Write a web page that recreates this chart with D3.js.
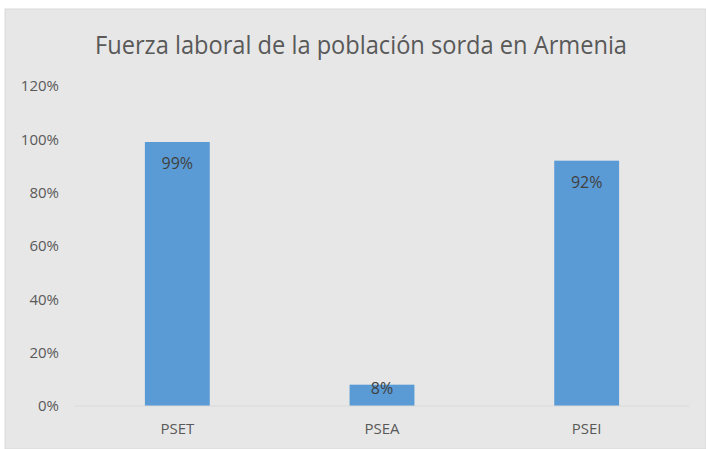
<!DOCTYPE html>
<html>
<head>
<meta charset="utf-8">
<script src="https://cdn.jsdelivr.net/npm/d3@7"></script>
<style>
  html, body { margin: 0; padding: 0; background: #fff; }
  svg { display: block; font-family: "Open Sans", "Noto Sans", sans-serif; }
</style>
</head>
<body>
<svg id="graph" width="706" height="449"></svg>
<script>
const title = "Fuerza laboral de la población sorda en Armenia";
const categories = ["PSET", "PSEA", "PSEI"];
const values = [0.99, 0.08, 0.92];
const yTicks = [0, 0.2, 0.4, 0.6, 0.8, 1.0, 1.2];

let svg = d3.select("#graph");

// chart area background
svg.append("rect")
    .attr("x", 5).attr("y", 9)
    .attr("width", 701).attr("height", 440)
    .attr("fill", "#e7e7e7")
    .attr("stroke", "#d9d9d9");

let plotL = 75, plotR = 689, plotT = 86, plotB = 406;

let scX = d3.scaleBand()
    .domain(categories)
    .range([plotL, plotR])
    .paddingInner(0.683)
    .paddingOuter(0.3415);

let scY = d3.scaleLinear()
    .domain([0, 1.2])
    .range([plotB, plotT]);

svg.append("text")
    .attr("x", 361).attr("y", 54)
    .attr("text-anchor", "middle")
    .attr("font-size", 25)
    .attr("fill", "#595959")
    .attr("textLength", 532)
    .attr("lengthAdjust", "spacingAndGlyphs")
    .text(title);

// y axis labels
let yAx = d3.axisLeft(scY)
    .tickValues(yTicks)
    .tickFormat(d3.format(".0%"))
    .tickSize(0)
    .tickPadding(0);

let gy = svg.append("g")
    .attr("transform", "translate(59,0)")
    .call(yAx);
gy.select(".domain").remove();
gy.selectAll("text")
    .attr("font-size", 15)
    .attr("font-family", "Open Sans, sans-serif")
    .attr("fill", "#595959");

// bars
svg.append("g")
    .selectAll("rect")
    .data(values)
    .enter()
    .append("rect")
    .attr("x", (d, i) => scX(categories[i]))
    .attr("y", (d) => scY(d))
    .attr("width", scX.bandwidth())
    .attr("height", (d) => plotB - scY(d))
    .attr("fill", "#5b9bd5");

// baseline
svg.append("line")
    .attr("x1", plotL).attr("x2", plotR)
    .attr("y1", plotB).attr("y2", plotB)
    .attr("stroke", "#d9d9d9")
    .attr("stroke-width", 1);

// value labels
svg.append("g")
    .selectAll("text")
    .data(values)
    .enter()
    .append("text")
    .attr("x", (d, i) => scX(categories[i]) + scX.bandwidth() / 2)
    .attr("y", (d) => Math.min(scY(d) + 27, plotB - 12))
    .attr("text-anchor", "middle")
    .attr("font-size", 16)
    .attr("fill", "#404040")
    .text((d) => d3.format(".0%")(d));

// x axis labels
let xAx = d3.axisBottom(scX).tickSize(0).tickPadding(0);
let gx = svg.append("g")
    .attr("transform", "translate(0," + (plotB + 17) + ")")
    .call(xAx);
gx.select(".domain").remove();
gx.selectAll("text")
    .attr("font-size", 15)
    .attr("font-family", "Open Sans, sans-serif")
    .attr("fill", "#595959");
</script>
</body>
</html>
